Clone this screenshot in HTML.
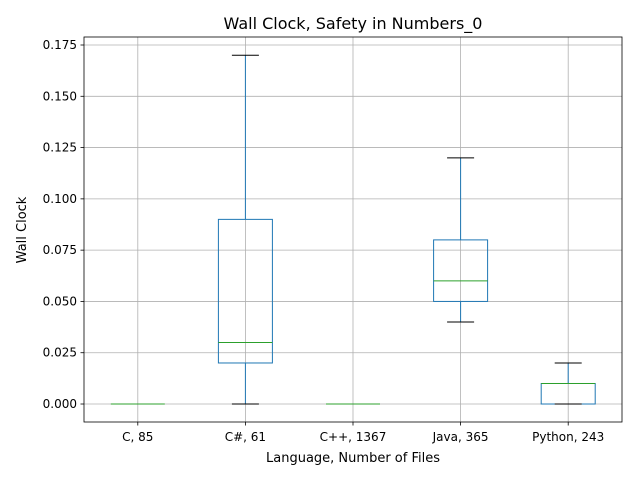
<!DOCTYPE html>
<html><head><meta charset="utf-8"><style>body{margin:0;background:#fff}svg{font-family:"DejaVu Sans","Liberation Sans",sans-serif}</style></head>
<body>
<svg id="chart" width="640" height="480" xmlns="http://www.w3.org/2000/svg">
<rect width="640" height="480" fill="#fff"/>
<g id="grid"></g><g id="boxes"></g><g id="axes"></g>
<text x="353" y="29" font-size="16" text-anchor="middle">Wall Clock, Safety in Numbers_0</text>
<text x="353" y="462" font-size="13" text-anchor="middle">Language, Number of Files</text>
<text transform="translate(26,230) rotate(-90)" font-size="13" text-anchor="middle">Wall Clock</text>
</svg>
<script>
const categories=["C, 85","C#, 61","C++, 1367","Java, 365","Python, 243"];
const whiskerLow=[0,0,0,0.04,0];
const q1=[0,0.02,0,0.05,0];
const median=[0,0.03,0,0.06,0.01];
const q3=[0,0.09,0,0.08,0.01];
const whiskerHigh=[0,0.17,0,0.12,0.02];
const yTicks=[0,0.025,0.05,0.075,0.1,0.125,0.15,0.175];
const L=84,R=622,T=37,B=422,yMin=-0.00877,yMax=0.1789;
const NS="http://www.w3.org/2000/svg";
const xs=i=>L+(i+0.5)*(R-L)/categories.length;
const ys=v=>B-(v-yMin)/(yMax-yMin)*(B-T);
function mk(p,t,a){const e=document.createElementNS(NS,t);for(const k in a)e.setAttribute(k,a[k]);p.appendChild(e);return e;}
const g=document.getElementById('grid'),bx=document.getElementById('boxes'),ax=document.getElementById('axes');
yTicks.forEach(v=>{const y=ys(v);
const l=mk(g,'line',{x1:L,x2:R,y1:y,y2:y,stroke:'#b0b0b0','stroke-width':0.8});

mk(ax,'line',{x1:L-3.5,x2:L,y1:y,y2:y,stroke:'#000','stroke-width':0.8});
const t=mk(ax,'text',{x:L-7,y:y+4,'font-size':12,'text-anchor':'end'});t.textContent=v.toFixed(3);
});
categories.forEach((c,i)=>{const x=xs(i);
const l=mk(g,'line',{x1:x,x2:x,y1:T,y2:B,stroke:'#b0b0b0','stroke-width':0.8});

mk(ax,'line',{x1:x,x2:x,y1:B,y2:B+3.5,stroke:'#000','stroke-width':0.8});
const t=mk(ax,'text',{x:x,y:B+19,'font-size':12,'text-anchor':'middle'});t.textContent=c;

const grp=mk(bx,'g',{});
const hw=27,cw=13.5,col='#1f77b4';
mk(grp,'line',{x1:x,x2:x,y1:ys(q3[i]),y2:ys(whiskerHigh[i]),stroke:col});
mk(grp,'line',{x1:x,x2:x,y1:ys(q1[i]),y2:ys(whiskerLow[i]),stroke:col});
mk(grp,'rect',{x:x-hw,y:ys(q3[i]),width:2*hw,height:Math.max(0,ys(q1[i])-ys(q3[i])),fill:'none',stroke:col});
mk(grp,'line',{x1:x-cw,x2:x+cw,y1:ys(whiskerHigh[i]),y2:ys(whiskerHigh[i]),stroke:'#000'});
mk(grp,'line',{x1:x-cw,x2:x+cw,y1:ys(whiskerLow[i]),y2:ys(whiskerLow[i]),stroke:'#000'});
mk(grp,'line',{x1:x-hw,x2:x+hw,y1:ys(median[i]),y2:ys(median[i]),stroke:'#2ca02c'});});
mk(ax,'rect',{x:L,y:T,width:R-L,height:B-T,fill:'none',stroke:'#000','stroke-width':0.8});
</script>
</body></html>
